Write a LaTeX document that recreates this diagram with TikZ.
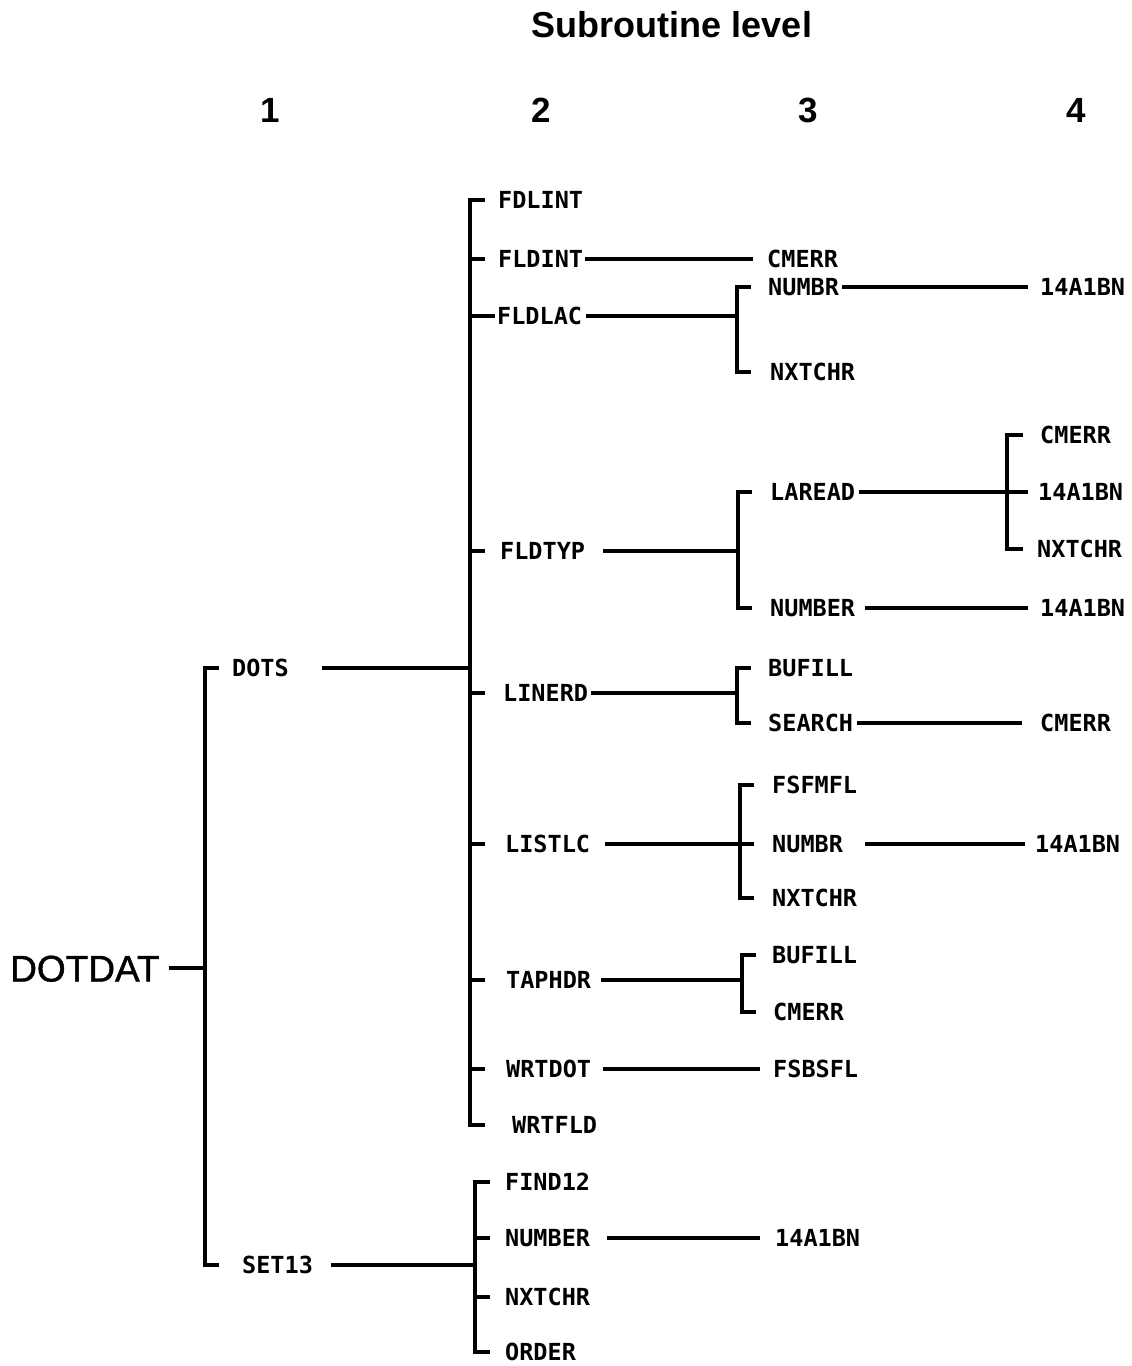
\documentclass[tikz,border=0pt]{standalone}
\usepackage{fontspec}
\setmainfont{Liberation Sans}
\newfontfamily\labfont{DejaVu Sans Mono}
\newfontfamily\rootfont{Liberation Sans}[FakeBold=1.2]
\usetikzlibrary{calc}
\begin{document}
\begin{tikzpicture}[x=1pt,y=-1pt,
  lab/.style={font=\labfont\bfseries\fontsize{23.5}{24}\selectfont, anchor=west, inner sep=0pt, text height=17pt, text depth=0pt},
  root/.style={font=\rootfont\fontsize{37}{40}\selectfont, anchor=west, inner sep=0pt, text height=27pt, text depth=0pt},
  hdr/.style={font=\bfseries\fontsize{36}{40}\selectfont, inner sep=0pt},
  num/.style={font=\bfseries\fontsize{35}{40}\selectfont, inner sep=0pt},
  ln/.style={line width=3.6pt, line join=miter}]
\useasboundingbox (0,0) rectangle (1132,1366);

% header
\node[hdr] (title) at (672,25) {Subroutine level};
\node[num] (n1) at (270,110) {1};
\node[num] (n2) at (541,110) {2};
\node[num] (n3) at (808,110) {3};
\node[num] (n4) at (1076,110) {4};

% bracket x positions
\coordinate (b1) at (205,0);
\coordinate (b2) at (470,0);
\coordinate (b3) at (737,0);
\coordinate (b4) at (738,0);
\coordinate (b5) at (1007,0);
\coordinate (b6) at (737,0);
\coordinate (b7) at (740,0);
\coordinate (b8) at (742,0);
\coordinate (b9) at (475,0);

% level 1
\node[root] (dotdat) at (10,968) {DOTDAT};
% level 1 children
\node[lab] (dots) at (232,668) {DOTS};
\node[lab] (set13) at (242,1265) {SET13};
% DOTS children
\node[lab] (fdlint) at (498,200) {FDLINT};
\node[lab] (fldint) at (498,259) {FLDINT};
\node[lab] (fldlac) at (497,316) {FLDLAC};
\node[lab] (fldtyp) at (500,551) {FLDTYP};
\node[lab] (linerd) at (503,693) {LINERD};
\node[lab] (listlc) at (505,844) {LISTLC};
\node[lab] (taphdr) at (506,980) {TAPHDR};
\node[lab] (wrtdot) at (506,1069) {WRTDOT};
\node[lab] (wrtfld) at (512,1125) {WRTFLD};
% level 3
\node[lab] (cmerrA) at (767,259) {CMERR};
\node[lab] (numbrA) at (768,287) {NUMBR};
\node[lab] (nxtchrA) at (770,372) {NXTCHR};
\node[lab] (laread) at (770,492) {LAREAD};
\node[lab] (numberA) at (770,608) {NUMBER};
\node[lab] (bufillA) at (768,668) {BUFILL};
\node[lab] (search) at (768,723) {SEARCH};
\node[lab] (fsfmfl) at (772,785) {FSFMFL};
\node[lab] (numbrB) at (772,844) {NUMBR};
\node[lab] (nxtchrB) at (772,898) {NXTCHR};
\node[lab] (bufillB) at (772,955) {BUFILL};
\node[lab] (cmerrB) at (773,1012) {CMERR};
\node[lab] (fsbsfl) at (773,1069) {FSBSFL};
% level 4
\node[lab] (iA) at (1040,287) {14A1BN};
\node[lab] (cmerrC) at (1040,435) {CMERR};
\node[lab] (iB) at (1038,492) {14A1BN};
\node[lab] (nxtchrC) at (1037,549) {NXTCHR};
\node[lab] (iC) at (1040,608) {14A1BN};
\node[lab] (cmerrD) at (1040,723) {CMERR};
\node[lab] (iD) at (1035,844) {14A1BN};
% SET13 children
\node[lab] (find12) at (505,1182) {FIND12};
\node[lab] (numberB) at (505,1238) {NUMBER};
\node[lab] (nxtchrD) at (505,1297) {NXTCHR};
\node[lab] (order) at (505,1352) {ORDER};
\node[lab] (iE) at (775,1238) {14A1BN};

% ---- connectors ----
% level 1
\draw[ln] ([xshift=9pt]dotdat.east) -- (dotdat.east -| b1);
\draw[ln] ($(dots.west -| b1)+(14,0)$) -- (dots.west -| b1) -- (set13.west -| b1) -- ++(14,0);
% DOTS
\draw[ln] ([xshift=33pt]dots.east) -- (dots.east -| b2);
\draw[ln] ($(fdlint.west -| b2)+(15,0)$) -- (fdlint.west -| b2) -- (wrtfld.west -| b2) -- ++(15,0);
\draw[ln] (fldint.west -| b2) -- ++(15,0);
\draw[ln] (fldlac.west -| b2) -- ++(25,0);
\draw[ln] (fldtyp.west -| b2) -- ++(15,0);
\draw[ln] (linerd.west -| b2) -- ++(15,0);
\draw[ln] (listlc.west -| b2) -- ++(15,0);
\draw[ln] (taphdr.west -| b2) -- ++(15,0);
\draw[ln] (wrtdot.west -| b2) -- ++(15,0);
% FLDINT
\draw[ln] ([xshift=2pt]fldint.east) -- ([xshift=-14pt]cmerrA.west);
% FLDLAC
\draw[ln] ([xshift=4pt]fldlac.east) -- (fldlac.east -| b3);
\draw[ln] ($(numbrA.west -| b3)+(14,0)$) -- (numbrA.west -| b3) -- (nxtchrA.west -| b3) -- ++(14,0);
\draw[ln] ([xshift=3pt]numbrA.east) -- ([xshift=-12pt]iA.west);
% FLDTYP
\draw[ln] ([xshift=18pt]fldtyp.east) -- (fldtyp.east -| b4);
\draw[ln] ($(laread.west -| b4)+(14,0)$) -- (laread.west -| b4) -- (numberA.west -| b4) -- ++(14,0);
\draw[ln] ([xshift=4pt]laread.east) -- ([xshift=-10pt]iB.west);
\draw[ln] ($(cmerrC.west -| b5)+(16,0)$) -- (cmerrC.west -| b5) -- (nxtchrC.west -| b5) -- ++(16,0);
\draw[ln] ([xshift=10pt]numberA.east) -- ([xshift=-12pt]iC.west);
% LINERD
\draw[ln] ([xshift=3pt]linerd.east) -- (linerd.east -| b6);
\draw[ln] ($(bufillA.west -| b6)+(14,0)$) -- (bufillA.west -| b6) -- (search.west -| b6) -- ++(14,0);
\draw[ln] ([xshift=4pt]search.east) -- ([xshift=-18pt]cmerrD.west);
% LISTLC
\draw[ln] ([xshift=15pt]listlc.east) -- (listlc.east -| b7);
\draw[ln] ($(fsfmfl.west -| b7)+(14,0)$) -- (fsfmfl.west -| b7) -- (nxtchrB.west -| b7) -- ++(14,0);
\draw[ln] (numbrB.west -| b7) -- ++(14,0);
\draw[ln] ([xshift=22pt]numbrB.east) -- ([xshift=-10pt]iD.west);
% TAPHDR
\draw[ln] ([xshift=10pt]taphdr.east) -- (taphdr.east -| b8);
\draw[ln] ($(bufillB.west -| b8)+(14,0)$) -- (bufillB.west -| b8) -- (cmerrB.west -| b8) -- ++(14,0);
% WRTDOT
\draw[ln] ([xshift=12pt]wrtdot.east) -- ([xshift=-13pt]fsbsfl.west);
% SET13
\draw[ln] ([xshift=18pt]set13.east) -- (set13.east -| b9);
\draw[ln] ($(find12.west -| b9)+(15,0)$) -- (find12.west -| b9) -- (order.west -| b9) -- ++(15,0);
\draw[ln] (numberB.west -| b9) -- ++(15,0);
\draw[ln] (nxtchrD.west -| b9) -- ++(15,0);
\draw[ln] ([xshift=17pt]numberB.east) -- ([xshift=-15pt]iE.west);
\end{tikzpicture}
\end{document}
